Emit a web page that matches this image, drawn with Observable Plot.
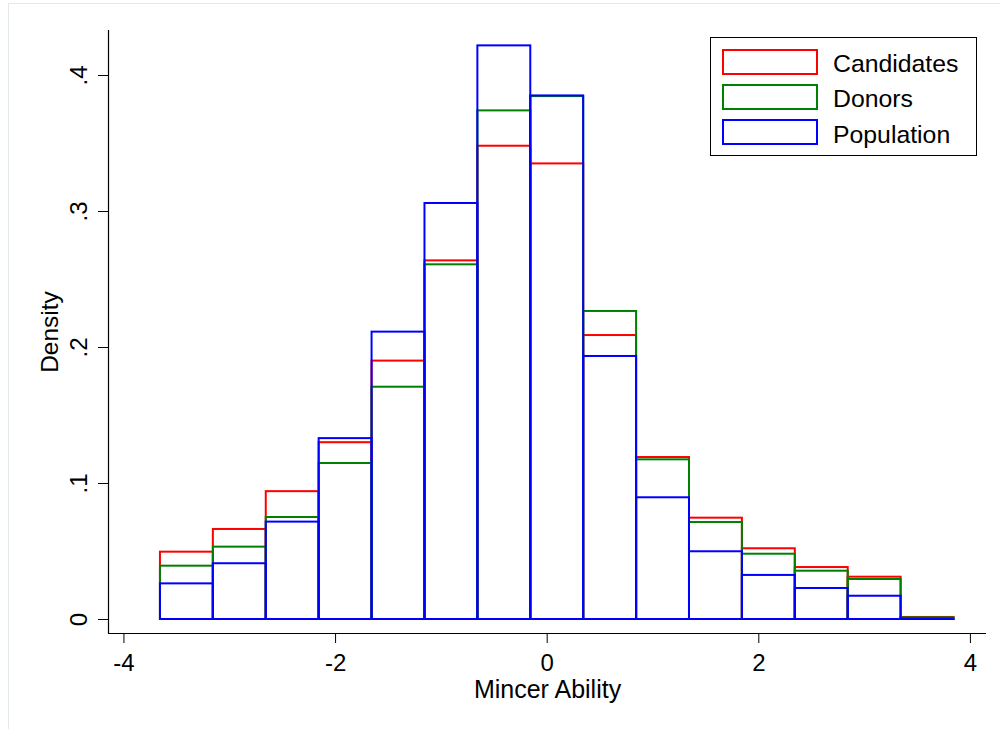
<!DOCTYPE html>
<html>
<head>
<meta charset="utf-8">
<script src="https://cdn.jsdelivr.net/npm/d3@7"></script>
<script src="https://cdn.jsdelivr.net/npm/@observablehq/plot@0.6"></script>
<style>
  body { margin: 0; background: #fff; }
  #wrap { position: relative; width: 1000px; height: 729px; overflow: hidden; font-family: "Liberation Sans", Arial, Helvetica, sans-serif; }
  #wrap svg { position: absolute; left: 0; top: 0; background: transparent; }
  #border { position: absolute; left: 8px; top: 3px; width: 1100px; height: 800px; border-left: 1px solid #e1e8eb; border-top: 1px solid #e1e8eb; pointer-events: none; }
  #legend { position: absolute; left: 710px; top: 37px; width: 265px; height: 117px; border: 1.3px solid #000; background: #fff; }
  .sw { position: absolute; left: 11px; width: 92px; height: 22px; border-width: 2px; border-style: solid; }
  .lab { position: absolute; left: 122px; font-size: 24.8px; line-height: 24px; color: #000; white-space: nowrap; }
</style>
</head>
<body>
<div id="wrap"></div>
<script>
// Bin edges of the histogram (Mincer Ability)
const binLeft  = [-3.655, -3.155, -2.655, -2.155, -1.655, -1.155, -0.655, -0.155, 0.345, 0.845, 1.345, 1.845, 2.345, 2.845, 3.345];
const binRight = [-3.155, -2.655, -2.155, -1.655, -1.155, -0.655, -0.155, 0.345, 0.845, 1.345, 1.845, 2.345, 2.845, 3.345, 3.845];
// Densities per series
const candidates = [0.0495, 0.0662, 0.094, 0.130, 0.190, 0.2637, 0.348, 0.335, 0.2088, 0.1191, 0.0745, 0.052, 0.0382, 0.0311, 0.0015];
const donors     = [0.0392, 0.0532, 0.075, 0.1147, 0.1708, 0.2608, 0.374, 0.3845, 0.2265, 0.1174, 0.0713, 0.048, 0.0355, 0.0294, 0.0012];
const population = [0.0262, 0.041, 0.0716, 0.133, 0.2113, 0.3059, 0.4218, 0.385, 0.1934, 0.0895, 0.0498, 0.0324, 0.0228, 0.0171, 0.0003];
const seriesNames = ["Candidates", "Donors", "Population"];
const seriesColors = ["#ff0000", "#008000", "#0000ff"];
const xTicks = [-4, -2, 0, 2, 4];
const yTicks = [0, 0.1, 0.2, 0.3, 0.4];
const yTickLabels = ["0", ".1", ".2", ".3", ".4"];
const xLabel = "Mincer Ability";
const yLabel = "Density";

const seriesValues = [candidates, donors, population];
const rows = [];
seriesNames.forEach((s, k) => {
  seriesValues[k].forEach((v, i) => rows.push({series: s, x1: binLeft[i], x2: binRight[i], y: v}));
});
const yTickData = yTicks.map((v, i) => ({v, t: yTickLabels[i]}));
const xDom = [-4.146, 4.152];
const yDom = [-0.0103, 0.4331];

const font = '"Liberation Sans", Arial, Helvetica, sans-serif';
const chart = Plot.plot({
  width: 1000,
  height: 729,
  marginLeft: 108,
  marginRight: 14,
  marginTop: 30,
  marginBottom: 96,
  style: {fontFamily: font, fontSize: "24px", color: "#000", background: "transparent"},
  x: {domain: xDom},
  y: {domain: yDom},
  marks: [
    ...seriesNames.map((s, k) => Plot.rect(rows.filter(d => d.series === s), {
      x1: "x1", x2: "x2", y1: 0, y2: "y", fill: "none", stroke: seriesColors[k], strokeWidth: 2
    })),
    Plot.ruleY([yDom[0]], {stroke: "#000", strokeWidth: 1.2}),
    Plot.ruleX([xDom[0]], {stroke: "#000", strokeWidth: 1.2}),
    Plot.axisX({ticks: xTicks, tickSize: 10, tickPadding: 10, tickFormat: d => d < 0 ? "-" + Math.abs(d) : String(d), fontSize: 24, label: null, stroke: "#000"}),
    Plot.axisY({ticks: yTicks, tickSize: 10, tickFormat: () => "", label: null, stroke: "#000"}),
    Plot.text(yTickData, {y: "v", text: "t", frameAnchor: "left", dx: -22, rotate: -90, textAnchor: "middle", lineAnchor: "bottom", fontSize: 24, fill: "#000"}),
    Plot.text([yLabel], {frameAnchor: "left", dx: -51, rotate: -90, textAnchor: "middle", lineAnchor: "bottom", fontSize: 24.5, fill: "#000"}),
    Plot.text([xLabel], {frameAnchor: "bottom", dy: 64, textAnchor: "middle", lineAnchor: "bottom", fontSize: 25, fill: "#000"})
  ]
});

const wrap = document.getElementById("wrap");
wrap.appendChild(chart);

const border = document.createElement("div");
border.id = "border";
wrap.appendChild(border);

const legend = document.createElement("div");
legend.id = "legend";
const swTops = [11, 46, 81];
const labTops = [14, 49, 85];
seriesNames.forEach((s, k) => {
  const sw = document.createElement("div");
  sw.className = "sw";
  sw.style.top = swTops[k] + "px";
  sw.style.borderColor = seriesColors[k];
  legend.appendChild(sw);
  const lab = document.createElement("div");
  lab.className = "lab";
  lab.style.top = labTops[k] + "px";
  lab.textContent = s;
  legend.appendChild(lab);
});
wrap.appendChild(legend);
</script>
</body>
</html>
